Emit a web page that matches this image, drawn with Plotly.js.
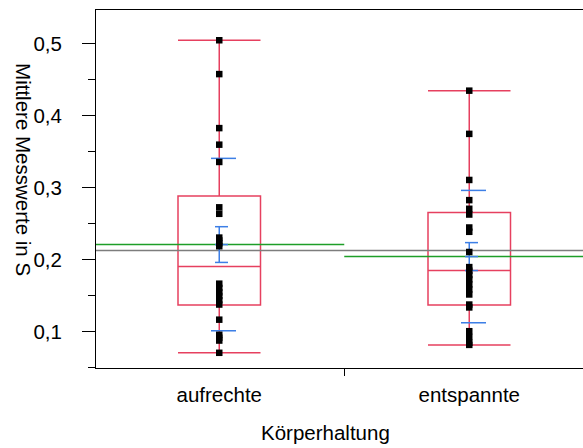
<!DOCTYPE html>
<html>
<head>
<meta charset="utf-8">
<script src="https://cdn.plot.ly/plotly-3.0.1.min.js"></script>
<style>
  html, body { margin: 0; padding: 0; background: #ffffff; }
  #chart { width: 583px; height: 448px; }
</style>
</head>
<body>
<div id="chart"></div>
<script>
// Groups of the factor "Körperhaltung"
const categories = ['aufrechte', 'entspannte'];

// Individual mean measurements (in S) per group
const aufrechteValues = [0.505, 0.458, 0.383, 0.360, 0.336, 0.273, 0.264, 0.231, 0.227, 0.223, 0.219,
  0.167, 0.161, 0.155, 0.150, 0.144, 0.138, 0.117, 0.096, 0.092, 0.088, 0.071];
const entspannteValues = [0.435, 0.375, 0.311, 0.283, 0.271, 0.263, 0.245, 0.239, 0.211, 0.190, 0.185,
  0.179, 0.173, 0.166, 0.159, 0.152, 0.138, 0.134, 0.101, 0.093, 0.085, 0.082];

// Quantile box summary per group
const boxQ1 = [0.1375, 0.1375];
const boxMedian = [0.1907, 0.1852];
const boxQ3 = [0.2889, 0.2657];

// Means, standard deviations and standard errors per group
const groupMeans = [0.2213, 0.2046];
const groupSD = [0.1197, 0.0919];
const groupSE = [0.0248, 0.0194];
const grandMean = 0.2130;

// Value-axis ticks (German decimal comma)
const yTickVals = [0.1, 0.2, 0.3, 0.4, 0.5];
const yTickText = ['0,1', '0,2', '0,3', '0,4', '0,5'];

const groups = [aufrechteValues, entspannteValues];
const idx = categories.map((c, i) => i);

const RED = '#e6405f';
const BLUE = '#3d7fe6';
const GREEN = '#1e9e28';
const GRAY = '#7d7d7d';
const FONT = 'Liberation Sans, Arial, Helvetica, sans-serif';

// Outlier box plots (whiskers reach the extreme values)
const boxTrace = {
  type: 'box',
  x: idx,
  q1: boxQ1,
  median: boxMedian,
  q3: boxQ3,
  lowerfence: groups.map(g => Math.min(...g)),
  upperfence: groups.map(g => Math.max(...g)),
  width: 0.33,
  whiskerwidth: 1,
  boxpoints: false,
  fillcolor: 'rgba(0,0,0,0)',
  line: { color: RED, width: 1.5 },
  hoverinfo: 'skip'
};

// Grand mean across both groups
const grandTrace = {
  type: 'scatter', mode: 'lines',
  x: [-0.5, categories.length - 0.5],
  y: [grandMean, grandMean],
  line: { color: GRAY, width: 1.5 },
  hoverinfo: 'skip'
};

// Group mean lines spanning each group's cell
const meanX = [], meanY = [];
idx.forEach(i => { meanX.push(i - 0.5, i + 0.5, null); meanY.push(groupMeans[i], groupMeans[i], null); });
const meanTrace = {
  type: 'scatter', mode: 'lines', x: meanX, y: meanY,
  line: { color: GREEN, width: 1.5 }, hoverinfo: 'skip'
};

// Standard deviation lines (mean ± SD)
const sdX = [], sdY = [];
idx.forEach(i => {
  [1, -1].forEach(s => {
    const v = groupMeans[i] + s * groupSD[i];
    sdX.push(i - 0.033, i + 0.067, null); sdY.push(v, v, null);
  });
});
const sdTrace = {
  type: 'scatter', mode: 'lines', x: sdX, y: sdY,
  line: { color: BLUE, width: 1.5 }, hoverinfo: 'skip'
};

// Mean error bars (mean ± SE) with caps and mean tick
const seX = [], seY = [];
idx.forEach(i => {
  const m = groupMeans[i], e = groupSE[i];
  seX.push(i, i, null); seY.push(m - e, m + e, null);
  [m - e, m, m + e].forEach(v => { seX.push(i - 0.017, i + 0.035, null); seY.push(v, v, null); });
});
const seTrace = {
  type: 'scatter', mode: 'lines', x: seX, y: seY,
  line: { color: BLUE, width: 1.5 }, hoverinfo: 'skip'
};

// Raw observations
const ptX = [], ptY = [];
groups.forEach((vals, i) => vals.forEach(v => { ptX.push(i); ptY.push(v); }));
const pointTrace = {
  type: 'scatter', mode: 'markers', x: ptX, y: ptY,
  marker: { symbol: 'square', size: 6.5, color: '#000000', line: { width: 0 } },
  hoverinfo: 'skip'
};

const layout = {
  width: 583, height: 448,
  margin: { l: 96, r: 0, t: 10, b: 80, pad: 0 },
  paper_bgcolor: '#ffffff', plot_bgcolor: '#ffffff',
  showlegend: false,
  font: { family: FONT, size: 20.5, color: '#000000' },
  xaxis: {
    range: [-0.493, 1.455],
    tickmode: 'array', tickvals: idx, ticktext: categories,
    ticks: '', ticklabelstandoff: 8,
    showline: true, linecolor: '#000000', linewidth: 1, mirror: true,
    showgrid: false, zeroline: false,
    minor: { tickmode: 'array', tickvals: [0.5], ticks: 'outside', ticklen: 7, tickwidth: 1, tickcolor: '#000000', showgrid: false },
    tickfont: { family: FONT, size: 20.5, color: '#000000' }
  },
  yaxis: {
    range: [0.0499, 0.547],
    tickmode: 'array', tickvals: yTickVals, ticktext: yTickText,
    ticks: 'outside', ticklen: 13, tickwidth: 1, tickcolor: '#000000',
    ticklabelstandoff: 16,
    showline: true, linecolor: '#000000', linewidth: 1,
    showgrid: false, zeroline: false,
    minor: { dtick: 0.05, tick0: 0, ticks: 'outside', ticklen: 7, tickwidth: 1, tickcolor: '#000000', showgrid: false },
    tickfont: { family: FONT, size: 20.5, color: '#000000' }
  },
  annotations: [
    {
      text: 'Körperhaltung', xref: 'paper', yref: 'paper',
      x: 0.472, y: -0.179, xanchor: 'center', yanchor: 'middle',
      showarrow: false, font: { family: FONT, size: 20.5, color: '#000000' }
    },
    {
      text: 'Mittlere Messwerte in S', xref: 'paper', yref: 'paper',
      x: -0.148, y: 0.553, xanchor: 'center', yanchor: 'middle', textangle: 90,
      showarrow: false, font: { family: FONT, size: 20.5, color: '#000000' }
    }
  ]
};

Plotly.newPlot('chart',
  [boxTrace, grandTrace, meanTrace, sdTrace, seTrace, pointTrace],
  layout,
  { staticPlot: true, displayModeBar: false });
</script>
</body>
</html>
